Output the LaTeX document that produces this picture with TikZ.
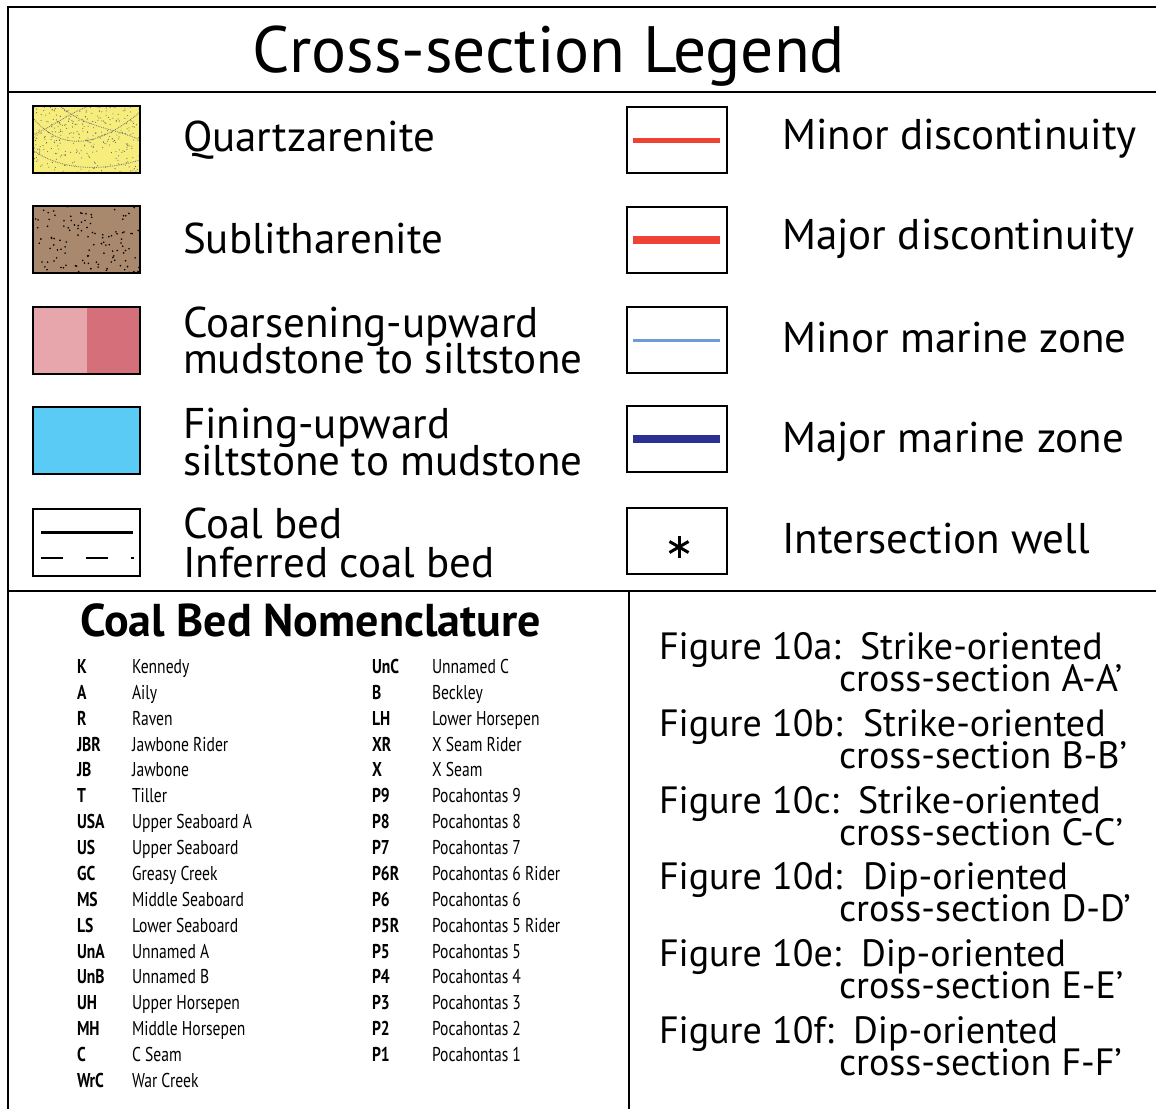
\documentclass[tikz,border=0pt]{standalone}
\usepackage{fontspec}
\setmainfont{PT Sans}
\newfontfamily\narrowfont[FakeStretch=0.78]{PT Sans}
\usepackage{tikz}
\usetikzlibrary{calc}

\definecolor{quartzyellow}{RGB}{246,237,125}
\definecolor{sublitbrown}{RGB}{168,137,110}
\definecolor{coarselight}{RGB}{230,166,172}
\definecolor{coarsedark}{RGB}{213,111,122}
\definecolor{fineblue}{RGB}{90,203,245}
\definecolor{discred}{RGB}{239,65,54}
\definecolor{marinelight}{RGB}{106,158,212}
\definecolor{marinedark}{RGB}{43,49,146}

\begin{document}
\begin{tikzpicture}[x=1pt, y=-1pt]
\tikzset{every node/.style={inner sep=0pt, outer sep=0pt},
  swatch/.style={draw, line width=1.8pt, minimum width=107pt, minimum height=67pt, anchor=north west},
  keybox/.style={draw, line width=1.8pt, minimum width=100pt, minimum height=66pt, anchor=north west},
  legtext/.style={anchor=base west, text height=29pt, text depth=4pt, font=\fontsize{43}{43}\selectfont},
  figtext/.style={anchor=base west, text height=24pt, text depth=4pt, font=\fontsize{38}{38}\selectfont},
  abbr/.style={anchor=base west, font=\narrowfont\bfseries\fontsize{20}{20}\selectfont},
  seam/.style={anchor=base west, font=\narrowfont\fontsize{20}{20}\selectfont},
  stipple/.style={densely dotted, line width=0.8pt, black!55}}

% Normalize bounding box
\useasboundingbox (0,0) rectangle (1156,1108);
\clip (0,0) rectangle (1156,1108);

% frame
\draw [line width=2pt] (1170,7) -- (8,7) -- (8,1120);
\draw [line width=2pt] (8,92) -- (1170,92);
\draw [line width=2pt] (8,591) -- (1170,591);
\draw [line width=2pt] (629,591) -- (629,1120);

\node [anchor=base, font=\fontsize{65.5}{66}\selectfont] (title) at (549,73) {Cross-section Legend};

% lithology swatches
\node [swatch, fill=quartzyellow] (QZ) at (33,106) {};
\node [swatch, fill=sublitbrown] (SL) at (33,206) {};
\node [swatch, fill=coarsedark, path picture={
  \fill [coarselight] (path picture bounding box.north west) rectangle (path picture bounding box.south);
}] (CU) at (33,307) {};
\node [swatch, fill=fineblue] (FU) at (33,407) {};
\node [swatch] (CB) at (33,509) {};

% stippling
\pgfmathsetseed{11}
\begin{scope}
\clip ([shift={(1.2pt,-1.2pt)}]QZ.north west) rectangle ([shift={(-1.2pt,1.2pt)}]QZ.south east);
\foreach \i in {1,...,330} {\fill [black!60] ({33+rnd*107},{106+rnd*67}) circle (0.55pt);}
\draw [stipple] (33,118) .. controls (60,150) and (95,150) .. (140,112);
\draw [stipple] (60,106) .. controls (85,128) and (115,128) .. (140,140);
\draw [stipple] (33,150) .. controls (60,170) and (100,172) .. (140,160);
\draw [stipple] (33,135) .. controls (55,125) and (75,110) .. (90,106);
\end{scope}
\begin{scope}
\clip ([shift={(1.2pt,-1.2pt)}]SL.north west) rectangle ([shift={(-1.2pt,1.2pt)}]SL.south east);
\foreach \i in {1,...,115} {\fill [black] ({33+rnd*107},{206+rnd*67}) circle (0.9pt);}
\end{scope}

\draw [line width=2.6pt] ([xshift=8pt, yshift=10pt]CB.west) -- ([xshift=-7pt, yshift=10pt]CB.east);
\draw [line width=2.6pt, dash pattern=on 22pt off 23pt] ([xshift=8pt, yshift=-15.5pt]CB.west) -- ([xshift=-6pt, yshift=-15.5pt]CB.east);

\node [legtext] (QZt) at (183,151) {Quartzarenite};
\node [legtext] (SLt) at (183,253) {Sublitharenite};
\node [legtext] (CUt) at (183,337) {Coarsening-upward};
\node [legtext] (CUb) at (183,373) {mudstone to siltstone};
\node [legtext] (FUt) at (183,438) {Fining-upward};
\node [legtext] (FUb) at (183,475) {siltstone to mudstone};
\node [legtext] (CBt) at (183,538) {Coal bed};
\node [legtext] (CBb) at (183,577) {Inferred coal bed};

% surfaces and markers
\node [keybox] (MnD) at (627,107) {};
\node [keybox] (MjD) at (627,207) {};
\node [keybox] (MnM) at (627,307) {};
\node [keybox] (MjM) at (627,406) {};
\node [keybox] (IW) at (627,508) {};
\draw [discred, line width=5pt] ([xshift=6pt]MnD.west) -- ([xshift=-7pt]MnD.east);
\draw [discred, line width=8pt] ([xshift=6pt]MjD.west) -- ([xshift=-7pt]MjD.east);
\draw [marinelight, line width=3pt] ([xshift=6pt]MnM.west) -- ([xshift=-7pt]MnM.east);
\draw [marinedark, line width=8pt] ([xshift=6pt]MjM.west) -- ([xshift=-7pt]MjM.east);
\coordinate (star) at ([xshift=2pt, yshift=-6pt]IW.center);
\foreach \a in {90,30,150,210,270,330} \draw [line width=3pt] (star) -- ++(\a:11);

\node [legtext] (MnDt) at (782,149) {Minor discontinuity};
\node [legtext] (MjDt) at (782,249) {Major discontinuity};
\node [legtext] (MnMt) at (782,352) {Minor marine zone};
\node [legtext] (MjMt) at (782,452) {Major marine zone};
\node [legtext] (IWt) at (782,553) {Intersection well};

% coal bed nomenclature
\node [anchor=base west, font=\bfseries\fontsize{46}{46}\selectfont] (CBN) at (80,636) {Coal Bed Nomenclature};
\node [abbr] (K) at (77,673) {K};      \node [seam] (Kn) at (132,673) {Kennedy};
\node [abbr] (A) at (77,699) {A};      \node [seam] (An) at (132,699) {Aily};
\node [abbr] (R) at (77,725) {R};      \node [seam] (Rn) at (132,725) {Raven};
\node [abbr] (JBR) at (77,751) {JBR};  \node [seam] (JBRn) at (132,751) {Jawbone Rider};
\node [abbr] (JB) at (77,776) {JB};    \node [seam] (JBn) at (132,776) {Jawbone};
\node [abbr] (T) at (77,802) {T};      \node [seam] (Tn) at (132,802) {Tiller};
\node [abbr] (USA) at (77,828) {USA};  \node [seam] (USAn) at (132,828) {Upper Seaboard A};
\node [abbr] (US) at (77,854) {US};    \node [seam] (USn) at (132,854) {Upper Seaboard};
\node [abbr] (GC) at (77,880) {GC};    \node [seam] (GCn) at (132,880) {Greasy Creek};
\node [abbr] (MS) at (77,906) {MS};    \node [seam] (MSn) at (132,906) {Middle Seaboard};
\node [abbr] (LS) at (77,932) {LS};    \node [seam] (LSn) at (132,932) {Lower Seaboard};
\node [abbr] (UnA) at (77,958) {UnA};  \node [seam] (UnAn) at (132,958) {Unnamed A};
\node [abbr] (UnB) at (77,983) {UnB};  \node [seam] (UnBn) at (132,983) {Unnamed B};
\node [abbr] (UH) at (77,1009) {UH};   \node [seam] (UHn) at (132,1009) {Upper Horsepen};
\node [abbr] (MH) at (77,1035) {MH};   \node [seam] (MHn) at (132,1035) {Middle Horsepen};
\node [abbr] (C) at (77,1061) {C};     \node [seam] (Cn) at (132,1061) {C Seam};
\node [abbr] (WrC) at (77,1087) {WrC}; \node [seam] (WrCn) at (132,1087) {War Creek};

\node [abbr] (UnC) at (372,673) {UnC}; \node [seam] (UnCn) at (432,673) {Unnamed C};
\node [abbr] (B) at (372,699) {B};     \node [seam] (Bn) at (432,699) {Beckley};
\node [abbr] (LH) at (372,725) {LH};   \node [seam] (LHn) at (432,725) {Lower Horsepen};
\node [abbr] (XR) at (372,751) {XR};   \node [seam] (XRn) at (432,751) {X Seam Rider};
\node [abbr] (X) at (372,776) {X};     \node [seam] (Xn) at (432,776) {X Seam};
\node [abbr] (P9) at (372,802) {P9};   \node [seam] (P9n) at (432,802) {Pocahontas 9};
\node [abbr] (P8) at (372,828) {P8};   \node [seam] (P8n) at (432,828) {Pocahontas 8};
\node [abbr] (P7) at (372,854) {P7};   \node [seam] (P7n) at (432,854) {Pocahontas 7};
\node [abbr] (P6R) at (372,880) {P6R}; \node [seam] (P6Rn) at (432,880) {Pocahontas 6 Rider};
\node [abbr] (P6) at (372,906) {P6};   \node [seam] (P6n) at (432,906) {Pocahontas 6};
\node [abbr] (P5R) at (372,932) {P5R}; \node [seam] (P5Rn) at (432,932) {Pocahontas 5 Rider};
\node [abbr] (P5) at (372,958) {P5};   \node [seam] (P5n) at (432,958) {Pocahontas 5};
\node [abbr] (P4) at (372,983) {P4};   \node [seam] (P4n) at (432,983) {Pocahontas 4};
\node [abbr] (P3) at (372,1009) {P3};  \node [seam] (P3n) at (432,1009) {Pocahontas 3};
\node [abbr] (P2) at (372,1035) {P2};  \node [seam] (P2n) at (432,1035) {Pocahontas 2};
\node [abbr] (P1) at (372,1061) {P1};  \node [seam] (P1n) at (432,1061) {Pocahontas 1};

% figure list
\node [figtext] (F10a) at (659,659) {Figure 10a:};  \node [figtext] (F10aT) at (860,659) {Strike-oriented};
\node [figtext] (F10aS) at (839,691) {cross-section A-A’};
\node [figtext] (F10b) at (659,736) {Figure 10b:};  \node [figtext] (F10bT) at (863,736) {Strike-oriented};
\node [figtext] (F10bS) at (839,768) {cross-section B-B’};
\node [figtext] (F10c) at (659,813) {Figure 10c:};  \node [figtext] (F10cT) at (858,813) {Strike-oriented};
\node [figtext] (F10cS) at (839,845) {cross-section C-C’};
\node [figtext] (F10d) at (659,889) {Figure 10d:};  \node [figtext] (F10dT) at (863,889) {Dip-oriented};
\node [figtext] (F10dS) at (839,921) {cross-section D-D’};
\node [figtext] (F10e) at (659,966) {Figure 10e:};  \node [figtext] (F10eT) at (861,966) {Dip-oriented};
\node [figtext] (F10eS) at (839,998) {cross-section E-E’};
\node [figtext] (F10f) at (659,1043) {Figure 10f:};  \node [figtext] (F10fT) at (853,1043) {Dip-oriented};
\node [figtext] (F10fS) at (839,1075) {cross-section F-F’};

\end{tikzpicture}
\end{document}
